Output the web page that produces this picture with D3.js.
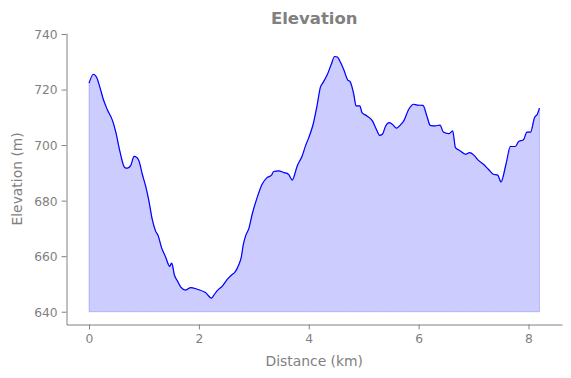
<!DOCTYPE html>
<html>
<head>
<meta charset="utf-8">
<script src="https://cdn.jsdelivr.net/npm/d3@7"></script>
<style>
  body { margin: 0; background: #fff; }
  text { font-family: "DejaVu Sans", sans-serif; fill: #808080; }
</style>
</head>
<body>
<svg id="chart" width="571" height="378"></svg>
<script>
const width = 571, height = 378;

// distance (km) and elevation (m)
const distance = [0, 0.08, 0.14, 0.2, 0.26, 0.33, 0.43, 0.49, 0.56, 0.65, 0.7, 0.76, 0.82, 0.87, 0.91,
  0.97, 1.03, 1.09, 1.15, 1.21, 1.26, 1.32, 1.39, 1.47, 1.5, 1.52, 1.55, 1.61, 1.67, 1.76, 1.85,
  1.97, 2.12, 2.23, 2.27, 2.33, 2.43, 2.52, 2.61, 2.65, 2.73, 2.77, 2.81, 2.85, 2.91, 2.97, 3.06,
  3.15, 3.24, 3.32, 3.36, 3.45, 3.55, 3.63, 3.7, 3.79, 3.88, 3.94, 4.0, 4.08, 4.15, 4.21, 4.26,
  4.34, 4.41, 4.47, 4.52, 4.58, 4.64, 4.71, 4.75, 4.82, 4.86, 4.93, 4.97, 5.06, 5.16, 5.23, 5.29,
  5.34, 5.4, 5.46, 5.52, 5.6, 5.67, 5.73, 5.82, 5.91, 5.97, 6.08, 6.15, 6.21, 6.3, 6.39, 6.45,
  6.55, 6.62, 6.67, 6.76, 6.85, 6.93, 7.01, 7.09, 7.18, 7.27, 7.36, 7.44, 7.5, 7.59, 7.67, 7.76,
  7.82, 7.91, 7.97, 8.04, 8.11, 8.16, 8.2];
const elevation = [722.3, 725.5, 724.3, 720.7, 716.5, 712.9, 708.7, 704.5, 697.9, 691.9, 691.7, 692.7, 695.9, 695.5, 694.3,
  689.5, 685.3, 679.9, 673.3, 669.1, 667.3, 663.1, 659.9, 656.3, 657.5, 656.8, 653.5, 651.1, 648.9, 647.8, 648.7,
  648.1, 646.9, 644.9, 645.9, 647.5, 649.3, 651.7, 653.5, 654.1, 657.1, 659.5, 664.3, 667.3, 670, 675.1, 681.1,
  685.9, 688.3, 689.1, 690.5, 690.7, 690.1, 689.5, 687.4, 692.5, 696.1, 699.7, 702.7, 707.5, 714.1, 720.7, 722.5,
  725.5, 729.1, 731.9, 731.7, 729.7, 727, 723.4, 722.9, 718.3, 714.1, 714.1, 711.7, 710.5, 708.7, 705.7, 703.5,
  703.9, 706.9, 708.1, 707.5, 706.1, 707.3, 708.7, 712.9, 714.7, 714.4, 714.3, 710.5, 707.1, 706.9, 707.2, 704.7,
  704.1, 705.1, 699.1, 697.9, 696.7, 697.3, 696.3, 694.5, 693.1, 691.3, 689.5, 689.2, 686.7, 693.1, 699.5, 699.5,
  701.3, 701.9, 704.7, 704.7, 709.9, 711.1, 713.3];
const baseElevation = 640;
const xTicks = [0, 2, 4, 6, 8];
const yTicks = [640, 660, 680, 700, 720, 740];

const points = distance.map((d, i) => ({ d, e: elevation[i] }));

const plotLeft = 66.5, plotRight = 562, plotTop = 33.3, plotBottom = 324.5;
const x = d3.scaleLinear().domain([-0.41, 8.61]).range([plotLeft, plotRight]);
const y = d3.scaleLinear().domain([635.4, 740.25]).range([plotBottom, plotTop]);

const svg = d3.select("#chart");

svg.append("path")
  .datum(points)
  .attr("d", d3.area().x(p => x(p.d)).y0(y(baseElevation)).y1(p => y(p.e)))
  .attr("fill", "rgba(0,0,255,0.2)")
  .attr("stroke", "rgba(0,0,255,0.2)")
  .attr("stroke-width", 1);

svg.append("path")
  .datum(points)
  .attr("d", d3.line().x(p => x(p.d)).y(p => y(p.e)).curve(d3.curveMonotoneX))
  .attr("fill", "none")
  .attr("stroke", "blue")
  .attr("stroke-width", 1.2);

// axes
const xAxis = svg.append("g")
  .attr("transform", `translate(0,${plotBottom})`)
  .call(d3.axisBottom(x).tickValues(xTicks).tickSize(4.9).tickPadding(4.5).tickSizeOuter(0));
const yAxis = svg.append("g")
  .attr("transform", `translate(${plotLeft},0)`)
  .call(d3.axisLeft(y).tickValues(yTicks).tickSize(4.9).tickPadding(4).tickSizeOuter(0));

[xAxis, yAxis].forEach(g => {
  g.select(".domain").attr("stroke", "#808080").attr("stroke-width", 1);
  g.selectAll(".tick line").attr("stroke", "#808080").attr("stroke-width", 1);
  g.selectAll(".tick text")
    .attr("fill", "#808080")
    .style("font-family", "DejaVu Sans, sans-serif")
    .style("font-size", "12.3px");
});
xAxis.selectAll(".tick text").attr("dy", "0.72em");
yAxis.selectAll(".tick text").attr("dy", "0.36em");

svg.append("text")
  .attr("x", (plotLeft + plotRight) / 2)
  .attr("y", 24)
  .attr("text-anchor", "middle")
  .style("font-size", "16.5px")
  .style("font-weight", "bold")
  .text("Elevation");

svg.append("text")
  .attr("x", (plotLeft + plotRight) / 2)
  .attr("y", 365.5)
  .attr("text-anchor", "middle")
  .style("font-size", "13.9px")
  .text("Distance (km)");

svg.append("text")
  .attr("transform", `translate(22,${(plotTop + plotBottom) / 2}) rotate(-90)`)
  .attr("text-anchor", "middle")
  .style("font-size", "13.9px")
  .text("Elevation (m)");
</script>
</body>
</html>
